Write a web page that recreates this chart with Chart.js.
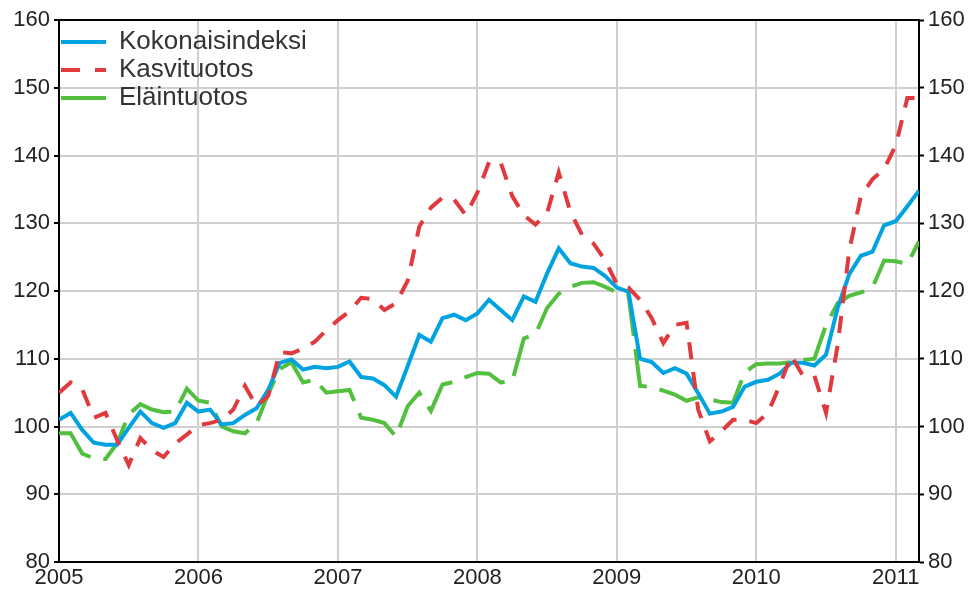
<!DOCTYPE html>
<html>
<head>
<meta charset="utf-8">
<title>Tuottajahintaindeksit</title>
<script src="https://cdn.jsdelivr.net/npm/chart.js@4/dist/chart.umd.min.js"></script>
<style>
  body { margin: 0; background: #fff; }
  #wrap { width: 973px; height: 593px; }
</style>
</head>
<body>
<div id="wrap"><canvas id="chart" width="973" height="593"></canvas></div>
<script>
// monthly index values, Jan 2005 .. Mar 2011
const YEARS = ['2005', '2006', '2007', '2008', '2009', '2010', '2011'];
const SERIES_NAMES = ['Kokonaisindeksi', 'Kasvituotos', 'Eläintuotos'];

const kokonais = [
  101.0, 102.0, 99.5, 97.6, 97.3, 97.3, 99.8, 102.2, 100.5, 99.8,
  100.5, 103.5, 102.2, 102.5, 100.3, 100.5, 101.7, 102.7, 105.4, 109.4,
  109.9, 108.4, 108.8, 108.6, 108.8, 109.6, 107.3, 107.1, 106.1, 104.4,
  108.9, 113.5, 112.5, 116.0, 116.5, 115.7, 116.7, 118.7, 117.2, 115.7,
  119.2, 118.4, 122.6, 126.3, 124.1, 123.6, 123.4, 122.2, 120.5, 119.9,
  110.0, 109.5, 107.9, 108.6, 107.8, 104.9, 101.9, 102.2, 102.9, 105.9,
  106.6, 106.9, 107.8, 109.4, 109.4, 109.0, 110.6, 117.5, 122.5, 125.2,
  125.8, 129.7, 130.3, 132.5, 134.8
];
const kasvi = [
  105.0, 106.5, 105.5, 101.3, 102.0, 98.0, 94.3, 98.3, 96.5, 95.5,
  97.5, 98.8, 100.2, 100.5, 101.0, 102.5, 106.0, 103.0, 104.5, 111.0,
  110.8, 111.5, 112.5, 114.2, 115.7, 117.0, 119.0, 118.8, 117.2, 118.2,
  121.5, 129.5, 132.3, 133.8, 133.5, 131.2, 134.5, 139.0, 139.0, 134.0,
  131.2, 129.8, 131.5, 137.5, 131.7, 128.3, 127.0, 124.5, 121.0, 120.5,
  118.7, 116.0, 112.3, 115.0, 115.3, 102.5, 97.8, 99.3, 101.0, 101.0,
  100.5, 102.0, 106.0, 110.5, 107.5, 107.5, 102.0, 112.0, 126.0, 134.0,
  136.5, 138.0, 141.5, 148.5, 148.5
];
const elain = [
  99.0, 99.0, 96.0, 95.3, 95.2, 97.5, 101.8, 103.3, 102.5, 102.1,
  102.2, 105.6, 103.8, 103.5, 100.0, 99.3, 99.0, 100.5, 104.8, 108.5,
  109.5, 106.5, 106.9, 105.0, 105.2, 105.4, 101.3, 101.0, 100.5, 98.5,
  103.0, 105.0, 102.3, 106.2, 106.6, 107.3, 107.9, 107.8, 106.5, 106.7,
  113.0, 113.6, 117.5, 119.6, 120.6, 121.2, 121.3, 120.6, 119.8, 119.5,
  106.0, 105.8, 105.3, 104.7, 103.8, 104.3, 104.0, 103.6, 103.5, 108.0,
  109.2, 109.3, 109.3, 109.5, 109.8, 110.0, 115.0, 118.2, 119.3, 119.8,
  120.5, 124.5, 124.4, 124.0, 127.3
];

const COLORS = ['#00a3e0', '#e0393e', '#52bf3e'];
const DASHES = [[], [17, 13], [44, 13]];
const LEGEND_DASHES = [[], [19, 15], []];

const toPoints = arr => arr.map((v, i) => ({ x: i, y: v }));

// top edge of the plot frame (the axes give the other three sides)
const frameTop = {
  id: 'frameTop',
  beforeDatasetsDraw(chart) {
    const { ctx, chartArea: a } = chart;
    ctx.save();
    ctx.strokeStyle = '#000';
    ctx.lineWidth = 2;
    ctx.beginPath();
    ctx.moveTo(a.left, a.top);
    ctx.lineTo(a.right, a.top);
    ctx.stroke();
    ctx.restore();
  }
};

Chart.defaults.font.family = '"Liberation Sans", Arial, sans-serif';
Chart.defaults.color = '#222';

new Chart(document.getElementById('chart'), {
  type: 'line',
  data: {
    datasets: [kokonais, kasvi, elain].map((arr, i) => ({
      label: SERIES_NAMES[i],
      data: toPoints(arr),
      borderColor: COLORS[i],
      backgroundColor: COLORS[i],
      borderWidth: 4,
      borderDash: DASHES[i],
      pointRadius: 0,
      tension: 0,
      order: [1, 0, 2][i]
    }))
  },
  options: {
    responsive: false,
    animation: false,
    layout: { padding: { top: 20, left: 0, right: 0, bottom: 0 } },
    plugins: {
      tooltip: { enabled: false },
      legend: {
        position: 'chartArea',
        align: 'start',
        title: { display: true, text: '', padding: { top: 22, bottom: 0 }, font: { size: 4, lineHeight: 1.25 } },
        labels: {
          usePointStyle: true,
          pointStyle: 'line',
          pointStyleWidth: 45,
          padding: 2,
          color: '#333',
          font: { size: 26 },
          sort: (a, b) => a.datasetIndex - b.datasetIndex,
          generateLabels(chart) {
            const items = Chart.defaults.plugins.legend.labels.generateLabels(chart);
            items.forEach(it => { it.lineDash = LEGEND_DASHES[it.datasetIndex]; it.lineWidth = 4; });
            return items;
          }
        }
      }
    },
    scales: {
      x: {
        type: 'linear',
        min: 0,
        max: kokonais.length - 1,
        afterFit: s => { s.height = 31; },
        afterBuildTicks: s => { s.ticks = YEARS.map((y, i) => ({ value: i * 12 })); },
        ticks: {
          autoSkip: false,
          maxRotation: 0,
          padding: 3,
          font: { size: 22 },
          callback: v => YEARS[Math.round(v / 12)]
        },
        grid: { color: '#cfcfcf', lineWidth: 2, drawTicks: false },
        border: { color: '#000', width: 2 }
      },
      y: {
        position: 'left',
        min: 80,
        max: 160,
        afterFit: s => { s.width = 59; },
        ticks: { stepSize: 10, padding: 4, font: { size: 22 } },
        grid: { color: '#cfcfcf', lineWidth: 2, tickLength: 5, tickColor: '#000', tickWidth: 2 },
        border: { color: '#000', width: 2 }
      },
      y2: {
        position: 'right',
        min: 80,
        max: 160,
        afterFit: s => { s.width = 54; },
        ticks: { stepSize: 10, padding: 4, font: { size: 22 } },
        grid: { drawOnChartArea: false, tickLength: 5, tickColor: '#000', tickWidth: 2 },
        border: { color: '#000', width: 2 }
      }
    }
  },
  plugins: [frameTop]
});
</script>
</body>
</html>
